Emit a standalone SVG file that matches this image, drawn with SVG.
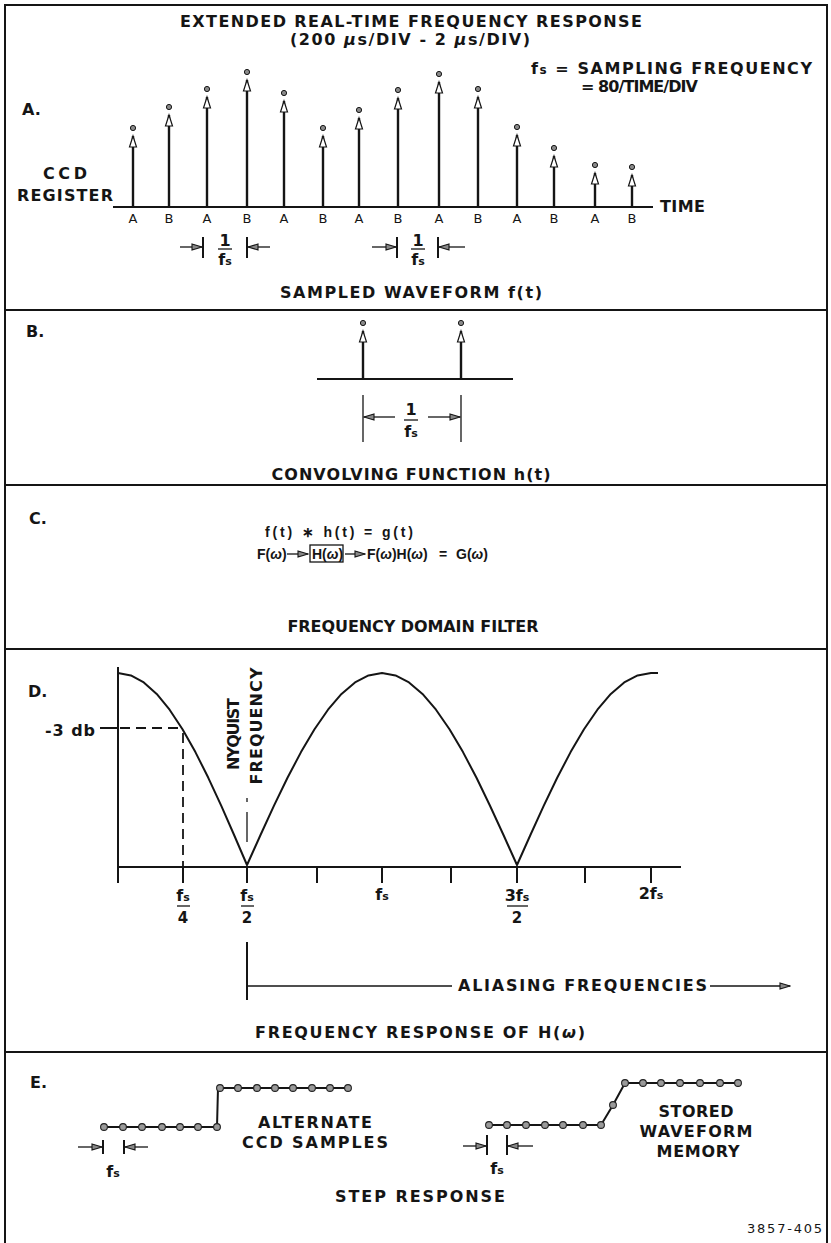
<svg xmlns="http://www.w3.org/2000/svg" xmlns:xlink="http://www.w3.org/1999/xlink" width="831" height="1243" viewBox="0 0 831 1243">
<style>
.t{font-family:"DejaVu Sans","Liberation Sans",Arial,sans-serif;font-weight:bold;font-size:16px;fill:#151515}
.c{font-family:"Liberation Sans",Arial,sans-serif;font-size:14px}
.n{font-weight:normal;font-size:13px}
.ln{stroke:#151515;stroke-width:2;fill:none}
.th{stroke:#151515;stroke-width:1.3;fill:none}
.stem{stroke:#151515;stroke-width:2.4}
.ah{fill:#fff;stroke:#151515;stroke-width:1.2}
.dot{fill:#8a8a8a;stroke:#151515;stroke-width:1}
.sd{fill:#9a9a9a;stroke:#222;stroke-width:1.1}
.dash{stroke:#151515;stroke-width:1.8;fill:none;stroke-dasharray:10 6}
</style>
<defs>
<marker id="oa" viewBox="0 0 12 8" refX="11" refY="4" markerWidth="12" markerHeight="8" markerUnits="userSpaceOnUse" orient="auto">
<path d="M1,1 L11,4 L1,7 Z" fill="#888" stroke="#151515" stroke-width="1.1"/>
</marker>
<g id="tip"><path class="ah" d="M0,8 l-3.5,11 h7 z"/><circle class="dot" cx="0" cy="0" r="2.6"/></g>
</defs>

<g id="frame">
<path class="ln" d="M5,1243 V5 H827 V1243"/>
<line class="ln" x1="5" y1="310" x2="827" y2="310"/>
<line class="ln" x1="5" y1="485" x2="827" y2="485"/>
<line class="ln" x1="5" y1="649" x2="827" y2="649"/>
<line class="ln" x1="5" y1="1052" x2="827" y2="1052"/>
</g>

<g id="panelA">
<text class="t" x="411" y="27" text-anchor="middle" font-size="15" textLength="462" lengthAdjust="spacing">EXTENDED REAL-TIME FREQUENCY RESPONSE</text>
<text class="t" x="410" y="45" text-anchor="middle" font-size="14.5" textLength="240" lengthAdjust="spacing">(200 <tspan font-style="italic">μ</tspan>s/DIV - 2 <tspan font-style="italic">μ</tspan>s/DIV)</text>
<text class="t" x="22" y="115">A.</text>
<text class="t" x="531" y="74" font-size="15" textLength="281" lengthAdjust="spacing">f<tspan font-size="12">s</tspan> = SAMPLING FREQUENCY</text>
<text class="t" x="581" y="92" font-size="13.5" textLength="117" lengthAdjust="spacing">= 80/TIME/DIV</text>
<text class="t" x="65" y="179" text-anchor="middle" font-size="15" textLength="44" lengthAdjust="spacing">CCD</text>
<text class="t" x="65" y="201" text-anchor="middle" font-size="15" textLength="96" lengthAdjust="spacing">REGISTER</text>
<text class="t" x="660" y="212" font-size="15" textLength="45" lengthAdjust="spacing">TIME</text>
<line class="ln" x1="113" y1="207" x2="653" y2="207" stroke-width="2.5"/>
<g id="stems">
<line class="stem" x1="133" y1="207" x2="133" y2="136"/><use xlink:href="#tip" x="133" y="128"/>
<line class="stem" x1="169" y1="207" x2="169" y2="115"/><use xlink:href="#tip" x="169" y="107"/>
<line class="stem" x1="207" y1="207" x2="207" y2="97"/><use xlink:href="#tip" x="207" y="89"/>
<line class="stem" x1="247" y1="207" x2="247" y2="80"/><use xlink:href="#tip" x="247" y="72"/>
<line class="stem" x1="284" y1="207" x2="284" y2="101"/><use xlink:href="#tip" x="284" y="93"/>
<line class="stem" x1="323" y1="207" x2="323" y2="136"/><use xlink:href="#tip" x="323" y="128"/>
<line class="stem" x1="359" y1="207" x2="359" y2="118"/><use xlink:href="#tip" x="359" y="110"/>
<line class="stem" x1="398" y1="207" x2="398" y2="98"/><use xlink:href="#tip" x="398" y="90"/>
<line class="stem" x1="439" y1="207" x2="439" y2="82"/><use xlink:href="#tip" x="439" y="74"/>
<line class="stem" x1="478" y1="207" x2="478" y2="97"/><use xlink:href="#tip" x="478" y="89"/>
<line class="stem" x1="517" y1="207" x2="517" y2="135"/><use xlink:href="#tip" x="517" y="127"/>
<line class="stem" x1="554" y1="207" x2="554" y2="156"/><use xlink:href="#tip" x="554" y="148"/>
<line class="stem" x1="595" y1="207" x2="595" y2="173"/><use xlink:href="#tip" x="595" y="165"/>
<line class="stem" x1="632" y1="207" x2="632" y2="175"/><use xlink:href="#tip" x="632" y="167"/>
</g>
<g class="t n" text-anchor="middle">
<text x="133" y="223">A</text><text x="169" y="223">B</text><text x="207" y="223">A</text><text x="247" y="223">B</text>
<text x="284" y="223">A</text><text x="323" y="223">B</text><text x="359" y="223">A</text><text x="398" y="223">B</text>
<text x="439" y="223">A</text><text x="478" y="223">B</text><text x="517" y="223">A</text><text x="554" y="223">B</text>
<text x="595" y="223">A</text><text x="632" y="223">B</text>
</g>
<g id="dimA1">
<line class="th" x1="180" y1="247" x2="202" y2="247" marker-end="url(#oa)"/>
<line class="ln" x1="203" y1="237" x2="203" y2="258"/>
<line class="ln" x1="247" y1="237" x2="247" y2="258"/>
<line class="th" x1="270" y1="247" x2="248" y2="247" marker-end="url(#oa)"/>
<text class="t" x="225" y="246" text-anchor="middle" font-size="17">1</text>
<line class="th" x1="218" y1="249" x2="232" y2="249"/>
<text class="t" x="225" y="265" text-anchor="middle" font-size="14">f<tspan font-size="11">s</tspan></text>
</g>
<g id="dimA2">
<line class="th" x1="372" y1="247" x2="396" y2="247" marker-end="url(#oa)"/>
<line class="ln" x1="397" y1="237" x2="397" y2="258"/>
<line class="ln" x1="438" y1="237" x2="438" y2="258"/>
<line class="th" x1="465" y1="247" x2="439" y2="247" marker-end="url(#oa)"/>
<text class="t" x="418" y="246" text-anchor="middle" font-size="17">1</text>
<line class="th" x1="411" y1="249" x2="425" y2="249"/>
<text class="t" x="418" y="265" text-anchor="middle" font-size="14">f<tspan font-size="11">s</tspan></text>
</g>
<text class="t" x="411" y="298" text-anchor="middle" textLength="262" lengthAdjust="spacing">SAMPLED WAVEFORM f(t)</text>
</g>

<g id="panelB">
<text class="t" x="26" y="337">B.</text>
<line class="ln" x1="317" y1="379" x2="513" y2="379"/>
<line class="stem" x1="363" y1="379" x2="363" y2="331"/><use xlink:href="#tip" x="363" y="323"/>
<line class="stem" x1="461" y1="379" x2="461" y2="331"/><use xlink:href="#tip" x="461" y="323"/>
<line class="th" x1="363" y1="395" x2="363" y2="442"/>
<line class="th" x1="461" y1="395" x2="461" y2="442"/>
<line class="th" x1="395" y1="417" x2="364" y2="417" marker-end="url(#oa)"/>
<line class="th" x1="428" y1="417" x2="460" y2="417" marker-end="url(#oa)"/>
<text class="t" x="411" y="415" text-anchor="middle" font-size="15">1</text>
<line class="th" x1="404" y1="420" x2="418" y2="420"/>
<text class="t" x="411" y="437" text-anchor="middle" font-size="14">f<tspan font-size="11">s</tspan></text>
<text class="t" x="411" y="480" text-anchor="middle" font-size="15" textLength="279" lengthAdjust="spacing">CONVOLVING FUNCTION h(t)</text>
</g>

<g id="panelC">
<text class="t" x="29" y="524">C.</text>
<text class="t c" x="265" y="537" font-size="15" textLength="148" lengthAdjust="spacing">f(t) ∗ h(t) = g(t)</text>
<text class="t c" x="257" y="559">F(<tspan font-style="italic">ω</tspan>)</text>
<line class="th" x1="287" y1="554" x2="308" y2="554" marker-end="url(#oa)"/>
<rect class="th" x="310" y="545" width="33" height="17" stroke-width="1"/>
<text class="t c" x="312" y="559">H(<tspan font-style="italic">ω</tspan>)</text>
<line class="th" x1="345" y1="554" x2="365" y2="554" marker-end="url(#oa)"/>
<text class="t c" x="367" y="559">F(<tspan font-style="italic">ω</tspan>)H(<tspan font-style="italic">ω</tspan>)</text>
<text class="t c" x="439" y="559">=</text>
<text class="t c" x="456" y="559">G(<tspan font-style="italic">ω</tspan>)</text>
<text class="t" x="413" y="632" text-anchor="middle" font-size="15" textLength="251" lengthAdjust="spacing">FREQUENCY DOMAIN FILTER</text>
</g>

<g id="panelD">
<text class="t" x="28" y="697">D.</text>
<line class="ln" x1="118" y1="667" x2="118" y2="883"/>
<line class="ln" x1="118" y1="867" x2="681" y2="867"/>
<g class="ln">
<line x1="183" y1="867" x2="183" y2="883"/>
<line x1="247" y1="867" x2="247" y2="883"/>
<line x1="317" y1="867" x2="317" y2="883"/>
<line x1="382" y1="867" x2="382" y2="883"/>
<line x1="451" y1="867" x2="451" y2="883"/>
<line x1="517" y1="867" x2="517" y2="883"/>
<line x1="585" y1="867" x2="585" y2="883"/>
<line x1="651" y1="867" x2="651" y2="883"/>
</g>
<polyline class="ln" stroke-linejoin="round" points="118,673 130.9,675.4 143.8,682.4 156.7,693.9 169.6,709.7 182.5,729.2 195.4,752.1 208.3,777.8 221.2,805.7 234.1,835 247,865 260.5,835 274,805.7 287.5,777.8 301,752.1 314.5,729.2 328,709.7 341.5,693.9 355,682.4 368.5,675.4 382,673 395.5,675.4 409,682.4 422.5,693.9 436,709.7 449.5,729.2 463,752.1 476.5,777.8 490,805.7 503.5,835 517,865 530.4,835 543.8,805.7 557.2,777.8 570.6,752.1 584,729.2 597.4,709.7 610.8,693.9 624.2,682.4 637.6,675.4 651,673 658,673"/>
<line class="ln" x1="100" y1="728" x2="118" y2="728"/>
<line class="dash" x1="120" y1="728" x2="183" y2="728"/>
<line class="dash" x1="183" y1="733" x2="183" y2="867"/>
<text class="t" x="45" y="736" font-size="15" textLength="50" lengthAdjust="spacing">-3 db</text>
<text class="t" transform="translate(239,734) rotate(-90)" text-anchor="middle" font-size="14.5" textLength="72" lengthAdjust="spacing">NYQUIST</text>
<text class="t" transform="translate(262,726) rotate(-90)" text-anchor="middle" font-size="14.5" textLength="117" lengthAdjust="spacing">FREQUENCY</text>
<line class="th" x1="247" y1="798" x2="247" y2="802" stroke-width="1.6"/>
<line class="th" x1="247" y1="812" x2="247" y2="842" stroke-width="1.6"/>
<g class="t" font-size="14" text-anchor="middle">
<text x="183" y="901">f<tspan font-size="11">s</tspan></text>
<text x="183" y="923" font-size="15">4</text>
<text x="247" y="901">f<tspan font-size="11">s</tspan></text>
<text x="247" y="923" font-size="15">2</text>
<text x="382" y="900">f<tspan font-size="11">s</tspan></text>
<text x="517" y="901">3f<tspan font-size="11">s</tspan></text>
<text x="517" y="923" font-size="15">2</text>
<text x="651" y="899">2f<tspan font-size="11">s</tspan></text>
</g>
<line class="th" x1="177" y1="906" x2="190" y2="906"/>
<line class="th" x1="241" y1="906" x2="254" y2="906"/>
<line class="th" x1="507" y1="906" x2="528" y2="906"/>
<line class="ln" x1="247" y1="942" x2="247" y2="1000"/>
<line class="th" x1="247" y1="986" x2="452" y2="986"/>
<text class="t" x="458" y="991" font-size="15" textLength="249" lengthAdjust="spacing">ALIASING FREQUENCIES</text>
<line class="th" x1="710" y1="986" x2="790" y2="986" marker-end="url(#oa)"/>
<text class="t" x="420" y="1038" text-anchor="middle" textLength="330" lengthAdjust="spacing">FREQUENCY RESPONSE OF H(<tspan font-style="italic">ω</tspan>)</text>
</g>

<g id="panelE">
<text class="t" x="30" y="1088">E.</text>
<g id="stepLeft">
<polyline class="ln" points="104,1127 217,1127 218,1088 348,1088"/>
<g class="sd">
<circle cx="104" cy="1127" r="3.4"/><circle cx="123" cy="1127" r="3.4"/><circle cx="142" cy="1127" r="3.4"/><circle cx="162" cy="1127" r="3.4"/><circle cx="180" cy="1127" r="3.4"/><circle cx="198" cy="1127" r="3.4"/><circle cx="217" cy="1127" r="3.4"/>
<circle cx="220" cy="1088" r="3.4"/><circle cx="238" cy="1088" r="3.4"/><circle cx="257" cy="1088" r="3.4"/><circle cx="275" cy="1088" r="3.4"/><circle cx="293" cy="1088" r="3.4"/><circle cx="312" cy="1088" r="3.4"/><circle cx="330" cy="1088" r="3.4"/><circle cx="348" cy="1088" r="3.4"/>
</g>
<line class="th" x1="78" y1="1147" x2="102" y2="1147" marker-end="url(#oa)"/>
<line class="ln" x1="103" y1="1140" x2="103" y2="1154" stroke-width="1.6"/>
<line class="ln" x1="124" y1="1140" x2="124" y2="1154" stroke-width="1.6"/>
<line class="th" x1="148" y1="1147" x2="125" y2="1147" marker-end="url(#oa)"/>
<text class="t" x="113" y="1177" text-anchor="middle" font-size="14">f<tspan font-size="11">s</tspan></text>
<text class="t" x="315" y="1128" text-anchor="middle" textLength="114" lengthAdjust="spacing">ALTERNATE</text>
<text class="t" x="315" y="1148" text-anchor="middle" textLength="146" lengthAdjust="spacing">CCD SAMPLES</text>
</g>
<g id="stepRight">
<polyline class="ln" points="489,1125 601,1125 613,1105 625,1083 738,1083"/>
<g class="sd">
<circle cx="489" cy="1125" r="3.4"/><circle cx="507" cy="1125" r="3.4"/><circle cx="526" cy="1125" r="3.4"/><circle cx="545" cy="1125" r="3.4"/><circle cx="563" cy="1125" r="3.4"/><circle cx="583" cy="1125" r="3.4"/><circle cx="601" cy="1125" r="3.4"/>
<circle cx="613" cy="1105" r="3.4"/>
<circle cx="625" cy="1083" r="3.4"/><circle cx="643" cy="1083" r="3.4"/><circle cx="661" cy="1083" r="3.4"/><circle cx="680" cy="1083" r="3.4"/><circle cx="700" cy="1083" r="3.4"/><circle cx="720" cy="1083" r="3.4"/><circle cx="738" cy="1083" r="3.4"/>
</g>
<line class="th" x1="463" y1="1146" x2="486" y2="1146" marker-end="url(#oa)"/>
<line class="ln" x1="487" y1="1135" x2="487" y2="1155" stroke-width="1.6"/>
<line class="ln" x1="507" y1="1135" x2="507" y2="1155" stroke-width="1.6"/>
<line class="th" x1="533" y1="1146" x2="508" y2="1146" marker-end="url(#oa)"/>
<text class="t" x="497" y="1174" text-anchor="middle" font-size="14">f<tspan font-size="11">s</tspan></text>
<text class="t" x="696" y="1117" text-anchor="middle" textLength="75" lengthAdjust="spacing">STORED</text>
<text class="t" x="696" y="1137" text-anchor="middle" textLength="113" lengthAdjust="spacing">WAVEFORM</text>
<text class="t" x="698" y="1157" text-anchor="middle" textLength="83" lengthAdjust="spacing">MEMORY</text>
</g>
<text class="t" x="420" y="1202" text-anchor="middle" textLength="170" lengthAdjust="spacing">STEP RESPONSE</text>
<text class="t n" x="822" y="1233" text-anchor="end" font-size="14" textLength="75" lengthAdjust="spacing">3857-405</text>
</g>
</svg>
